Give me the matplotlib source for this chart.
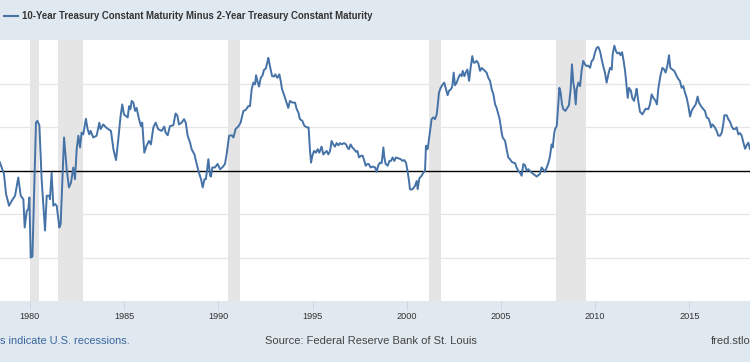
import matplotlib
matplotlib.use("Agg")
import matplotlib.pyplot as plt
from matplotlib.lines import Line2D

# ---- data (decimal year, spread in percentage points) ----
dates = [
    1978.33, 1978.41, 1978.62, 1978.73, 1978.89, 1979.03, 1979.21, 1979.38, 1979.51, 1979.65,
    1979.72, 1979.83, 1979.91, 1979.97, 1980.04, 1980.13, 1980.32, 1980.39, 1980.50, 1980.62,
    1980.80, 1980.89, 1981.03, 1981.06, 1981.15, 1981.24, 1981.33, 1981.42, 1981.56, 1981.63,
    1981.81, 1981.95, 1982.07, 1982.18, 1982.30, 1982.39, 1982.48, 1982.57, 1982.66, 1982.74,
    1982.83, 1982.97, 1983.06, 1983.15, 1983.22, 1983.36, 1983.54, 1983.68, 1983.75, 1983.89,
    1984.04, 1984.16, 1984.30, 1984.43, 1984.51, 1984.57, 1984.69, 1984.81, 1984.90, 1984.99,
    1985.19, 1985.26, 1985.33, 1985.40, 1985.49, 1985.58, 1985.66, 1985.79, 1985.89, 1985.96,
    1986.07, 1986.19, 1986.32, 1986.42, 1986.55, 1986.67, 1986.81, 1986.99, 1987.13, 1987.20,
    1987.31, 1987.43, 1987.61, 1987.73, 1987.82, 1987.91, 1988.05, 1988.18, 1988.27, 1988.37,
    1988.50, 1988.58, 1988.73, 1988.85, 1988.97, 1989.08, 1989.17, 1989.26, 1989.34, 1989.47,
    1989.56, 1989.61, 1989.68, 1989.82, 1989.96, 1990.09, 1990.21, 1990.35, 1990.44, 1990.57,
    1990.71, 1990.80, 1990.92, 1991.06, 1991.18, 1991.33, 1991.45, 1991.59,
    1991.68, 1991.77, 1991.86, 1991.95, 1992.00, 1992.07, 1992.16, 1992.25, 1992.35, 1992.42,
    1992.51, 1992.60, 1992.65, 1992.74, 1992.85, 1992.95, 1993.02, 1993.13, 1993.24, 1993.31,
    1993.38, 1993.48, 1993.59, 1993.71, 1993.80, 1993.94, 1994.07, 1994.16, 1994.25, 1994.33,
    1994.46, 1994.55, 1994.62, 1994.72, 1994.79, 1994.86, 1994.92, 1994.99, 1995.08, 1995.18,
    1995.27, 1995.36, 1995.48, 1995.57, 1995.66, 1995.75, 1995.84, 1995.93, 1996.01, 1996.10,
    1996.19, 1996.28, 1996.37, 1996.46, 1996.55, 1996.67, 1996.78, 1996.85, 1996.93, 1997.02,
    1997.11, 1997.20, 1997.31, 1997.38, 1997.47, 1997.57, 1997.66, 1997.75, 1997.82, 1997.91,
    1997.98, 1998.08, 1998.19,
    1998.32, 1998.40, 1998.49, 1998.58, 1998.67, 1998.76, 1998.81, 1998.88, 1998.99, 1999.08,
    1999.16, 1999.25, 1999.34, 1999.43, 1999.55, 1999.68, 1999.78, 1999.87, 1999.96, 2000.05,
    2000.12, 2000.17, 2000.26, 2000.35, 2000.44, 2000.53, 2000.58, 2000.67, 2000.79, 2000.88,
    2000.97, 2001.02, 2001.11, 2001.18, 2001.25, 2001.32, 2001.41, 2001.50, 2001.59, 2001.64,
    2001.71, 2001.80, 2001.91, 2001.99, 2002.08, 2002.17, 2002.24, 2002.35, 2002.42, 2002.49,
    2002.56, 2002.65, 2002.74, 2002.83, 2002.92, 2002.97, 2003.06, 2003.13, 2003.22, 2003.31,
    2003.39, 2003.48, 2003.55, 2003.62, 2003.71, 2003.80, 2003.89, 2003.98, 2004.07, 2004.15,
    2004.24, 2004.33, 2004.42, 2004.51, 2004.60, 2004.69, 2004.77, 2004.86, 2004.93,
    2005.04, 2005.09, 2005.22, 2005.30, 2005.39, 2005.48, 2005.57, 2005.66, 2005.75, 2005.83,
    2005.92, 2006.01, 2006.10, 2006.19, 2006.28, 2006.37, 2006.45, 2006.54, 2006.63, 2006.72,
    2006.81, 2006.90, 2006.98, 2007.07, 2007.16, 2007.25, 2007.34, 2007.43, 2007.52, 2007.60,
    2007.69, 2007.75, 2007.82, 2007.87, 2007.96, 2008.05, 2008.10, 2008.17, 2008.24, 2008.31,
    2008.42, 2008.52, 2008.61, 2008.70, 2008.77, 2008.84, 2008.90, 2008.97, 2009.02, 2009.11,
    2009.20, 2009.28, 2009.37, 2009.46, 2009.55, 2009.64, 2009.73, 2009.82, 2009.90, 2009.99,
    2010.08, 2010.17, 2010.26, 2010.35, 2010.43, 2010.52, 2010.61, 2010.70, 2010.79, 2010.88,
    2010.93, 2011.02, 2011.11, 2011.18, 2011.28, 2011.35, 2011.43, 2011.50,
    2011.59, 2011.73, 2011.80, 2011.90, 2011.97, 2012.06, 2012.15, 2012.20, 2012.29, 2012.38,
    2012.51, 2012.56, 2012.68, 2012.82, 2012.91, 2013.00, 2013.09, 2013.21, 2013.28, 2013.35,
    2013.46, 2013.57, 2013.67, 2013.74, 2013.83, 2013.92, 2013.99, 2014.10, 2014.20, 2014.33,
    2014.42, 2014.50, 2014.59, 2014.68, 2014.77, 2014.86, 2014.95, 2015.04, 2015.12, 2015.21,
    2015.34, 2015.44, 2015.51, 2015.62, 2015.74, 2015.83, 2015.92, 2016.01, 2016.10, 2016.15,
    2016.22, 2016.33, 2016.45, 2016.54, 2016.63, 2016.72, 2016.80, 2016.86, 2016.98, 2017.07,
    2017.16, 2017.25, 2017.34, 2017.42, 2017.51, 2017.60, 2017.69, 2017.78, 2017.87, 2017.96,
    2018.04, 2018.13, 2018.22, 2018.30,
]
spread = [
    0.25, 0.18, -0.08, -0.54, -0.81, -0.70, -0.58, -0.16, -0.58, -0.66,
    -1.31, -0.93, -0.89, -0.62, -2.00, -1.98, 1.10, 1.14, 1.04, -0.20,
    -1.38, -0.58, -0.58, -0.66, -0.05, -0.81, -0.77, -0.81, -1.31, -1.23,
    0.76, 0.03, -0.39, -0.28, 0.07, -0.20, 0.49, 0.80, 0.53, 0.87,
    0.83, 1.19, 0.95, 0.83, 0.91, 0.76, 0.80, 1.10, 0.95, 1.06,
    0.99, 0.95, 0.91, 0.49, 0.34, 0.24, 0.72, 1.25, 1.52, 1.29,
    1.22, 1.48, 1.41, 1.60, 1.56, 1.37, 1.44, 1.18, 1.02, 1.10,
    0.41, 0.57, 0.68, 0.60, 0.99, 1.10, 0.95, 0.91, 1.01, 0.87,
    0.81, 1.02, 1.04, 1.31, 1.27, 1.06, 1.10, 1.18, 1.10, 0.80,
    0.64, 0.49, 0.37, 0.15, -0.05, -0.20, -0.39, -0.20, -0.20, 0.26,
    -0.12, -0.14, 0.07, 0.07, 0.15, 0.03, 0.07, 0.15, 0.37, 0.80,
    0.81, 0.76, 0.96, 1.01, 1.10, 1.37, 1.39, 1.48,
    1.48, 1.87, 2.02, 1.98, 2.19, 2.06, 1.93, 2.13, 2.19, 2.31,
    2.34, 2.48, 2.59, 2.40, 2.17, 2.16, 2.21, 2.13, 2.21, 2.06,
    1.87, 1.75, 1.60, 1.44, 1.60, 1.56, 1.56, 1.41, 1.33, 1.18,
    1.14, 1.04, 1.01, 0.99, 0.99, 0.49, 0.18, 0.34, 0.45, 0.41,
    0.49, 0.41, 0.55, 0.37, 0.41, 0.45, 0.37, 0.45, 0.68, 0.60,
    0.55, 0.63, 0.58, 0.63, 0.60, 0.63, 0.60, 0.53, 0.49, 0.60,
    0.53, 0.49, 0.43, 0.45, 0.30, 0.34, 0.34, 0.22, 0.11, 0.15,
    0.15, 0.07, 0.09,
    0.07, -0.03, 0.12, 0.18, 0.17, 0.53, 0.30, 0.15, 0.11, 0.22,
    0.22, 0.30, 0.22, 0.30, 0.28, 0.26, 0.22, 0.24, 0.18, -0.03,
    -0.24, -0.43, -0.44, -0.41, -0.35, -0.24, -0.43, -0.18, -0.12, -0.05,
    -0.01, 0.57, 0.49, 0.72, 0.95, 1.18, 1.22, 1.18, 1.29, 1.48,
    1.79, 1.90, 1.98, 2.02, 1.87, 1.73, 1.83, 1.87, 1.94, 2.25,
    1.96, 2.02, 2.13, 2.21, 2.17, 2.29, 2.17, 2.25, 2.32, 2.06,
    2.36, 2.63, 2.48, 2.48, 2.52, 2.46, 2.29, 2.36, 2.32, 2.29,
    2.25, 2.13, 2.06, 1.87, 1.75, 1.52, 1.44, 1.29, 1.18,
    0.87, 0.76, 0.68, 0.49, 0.30, 0.26, 0.20, 0.18, 0.17, 0.07,
    -0.01, -0.05, -0.12, 0.15, 0.12, -0.01, 0.03, -0.01, -0.05, -0.08,
    -0.11, -0.14, -0.11, -0.08, 0.07, 0.02, -0.03, 0.07, 0.18, 0.32,
    0.60, 0.53, 0.83, 0.95, 1.02, 1.56, 1.90, 1.79, 1.52, 1.41,
    1.37, 1.44, 1.50, 1.87, 2.44, 2.02, 1.87, 1.52, 1.87, 2.02,
    1.94, 2.29, 2.52, 2.44, 2.40, 2.41, 2.36, 2.52, 2.55, 2.71,
    2.82, 2.84, 2.74, 2.55, 2.40, 2.25, 2.02, 2.21, 2.36, 2.32,
    2.67, 2.87, 2.74, 2.69, 2.71, 2.65, 2.72, 2.55,
    2.29, 1.67, 1.90, 1.83, 1.67, 1.60, 1.75, 1.88, 1.60, 1.35,
    1.29, 1.33, 1.42, 1.41, 1.52, 1.75, 1.67, 1.60, 1.52, 1.87,
    2.17, 2.36, 2.32, 2.25, 2.40, 2.65, 2.36, 2.32, 2.29, 2.17,
    2.10, 2.06, 1.90, 1.94, 1.79, 1.67, 1.48, 1.24, 1.37, 1.44,
    1.52, 1.70, 1.56, 1.48, 1.41, 1.37, 1.22, 1.20, 1.10, 0.99,
    1.06, 1.01, 0.91, 0.80, 0.80, 0.87, 1.06, 1.27, 1.27, 1.18,
    1.12, 1.01, 0.95, 0.95, 0.99, 0.83, 0.86, 0.80, 0.64, 0.50,
    0.58, 0.64, 0.49, 0.55,
]
recession_start = [1980.00, 1981.50, 1990.50, 2001.17, 2007.92]
recession_end = [1980.50, 1982.83, 1991.17, 2001.83, 2009.50]
tick_years = [1980, 1985, 1990, 1995, 2000, 2005, 2010, 2015]
series_name = "10-Year Treasury Constant Maturity Minus 2-Year Treasury Constant Maturity"

# ---- styling ----
W, H = 750, 362
BAND = "#e1e9f0"
LINE = "#4572a7"
plt.rcParams["font.family"] = ["Liberation Sans", "DejaVu Sans"]

fig = plt.figure(figsize=(W / 100, H / 100), dpi=100, facecolor=BAND)
ax = fig.add_axes([0, 61 / H, 1, 261 / H])
ax.set_facecolor("white")
ax.set_xlim(1978.41, 2018.22)
ax.set_ylim(-3, 3)

for s, e in zip(recession_start, recession_end):
    ax.axvspan(s, e, color="#e5e5e5", lw=0, zorder=0)

ax.set_yticks([-2, -1, 1, 2])
ax.yaxis.grid(True, color="#e6e6e6", lw=0.9, zorder=0.5)
ax.tick_params(axis="y", left=False, labelleft=False)
ax.axhline(0, color="black", lw=1.0, zorder=2)
ax.plot(dates, spread, color=LINE, lw=1.4, zorder=3, solid_joinstyle="round")

for sp in ax.spines.values():
    sp.set_visible(False)
ax.set_axisbelow(True)
ax.set_xticks(tick_years)
ax.set_xticklabels([str(y) for y in tick_years])
ax.tick_params(axis="x", direction="out", length=6.5, width=0.7, color="#ccd6e6",
               labelsize=6.6, labelcolor="#333333", pad=1.5)

# legend at top band
fig.add_artist(Line2D([4 / W, 18 / W], [1 - 16 / H, 1 - 16 / H], color=LINE, lw=1.5))
fig.text(22 / W, 1 - 16 / H, series_name, fontsize=6.9, fontweight="bold",
         color="#333333", ha="left", va="center")

# footer
fig.text(0 / W, 1 - 341 / H, "s indicate U.S. recessions.", fontsize=7.9,
         color="#3a66a0", ha="left", va="center")
fig.text(371 / W, 1 - 341 / H, "Source: Federal Reserve Bank of St. Louis", fontsize=8.05,
         color="#444444", ha="center", va="center")
fig.text(711 / W, 1 - 341 / H, "fred.stlo", fontsize=8.05,
         color="#444444", ha="left", va="center")

fig.savefig("out.png", dpi=100, facecolor=BAND)
